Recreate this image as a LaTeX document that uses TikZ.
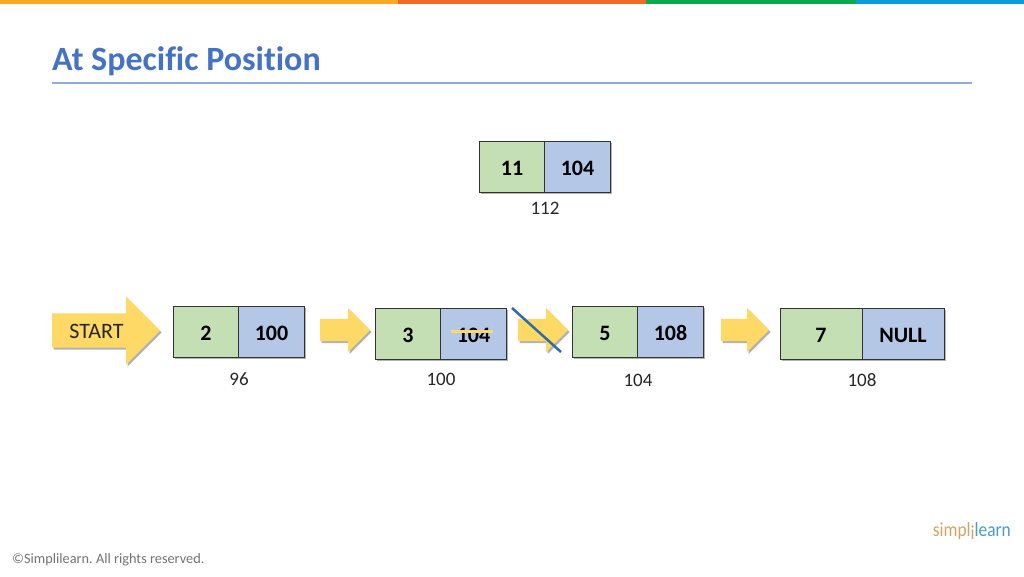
\documentclass[tikz,border=0pt]{standalone}
\usepackage{fontspec}
\setmainfont[Ligatures=NoCommon]{Carlito}
\usetikzlibrary{positioning,shapes.arrows,shadows}
\frenchspacing

\definecolor{stripa}{HTML}{FBA91E}
\definecolor{stripb}{HTML}{F26B25}
\definecolor{stripc}{HTML}{0BA950}
\definecolor{stripd}{HTML}{0A9BDB}
\definecolor{titleblue}{HTML}{4472C4}
\definecolor{rulecol}{HTML}{8FAADC}
\definecolor{datagreen}{HTML}{C5DFB4}
\definecolor{nextblue}{HTML}{B4C7E7}
\definecolor{arrowgold}{HTML}{FFD966}
\definecolor{crossblue}{HTML}{2E6CA4}
\definecolor{logotan}{HTML}{D2A467}
\definecolor{logoblue}{HTML}{4A9CC7}

\begin{document}
\begin{tikzpicture}[
  x = 1pt,
  y = -1pt,
  nodes = {inner sep = 0pt},
  dropshade/.style = {drop shadow={shadow xshift=1.5pt,shadow yshift=-2pt,fill=black,opacity=0.3}},
  datacell/.style = {
    draw = black!80, line width = 1pt, fill = datagreen, outer sep = 0pt,
    minimum width = 65.5pt, minimum height = 51pt,
    text height = 17pt, text depth = 0pt,
    font = \fontsize{22}{26}\selectfont\bfseries},
  nextcell/.style = {datacell, fill = nextblue},
  addr/.style = {font = \fontsize{19}{23}\selectfont, text = black!85},
  blockarrow/.style = {
    single arrow, fill = arrowgold, draw = none, dropshade, anchor = west,
    inner ysep = 11pt, minimum height = 50pt, minimum width = 44pt,
    single arrow head extend = 11pt,
    single arrow head indent = 0pt}
  ]
  \useasboundingbox (0,0) rectangle (1024,576);

  % colour strip along the top
  \fill [stripa] (0,0) rectangle (398,4);
  \fill [stripb] (398,0) rectangle (646,4);
  \fill [stripc] (646,0) rectangle (856,4);
  \fill [stripd] (856,0) rectangle (1024,4);

  % heading
  \node [anchor = west, text = titleblue, font = \fontsize{34}{40}\selectfont\bfseries]
    (heading) at (52,61) {At Specific Position};
  \draw [rulecol, line width = 1.2pt] (52,83) -- (972,83);

  % new node
  \node [datacell, dropshade] (newdata) at (512,166.5) {11};
  \node [nextcell, dropshade, right = 0pt of newdata] (newnext) {104};
  \node [addr] (newaddr) at (545,208) {112};

  % list
  \node [datacell, dropshade] (data1) at (206,331.5) {2};
  \node [nextcell, dropshade, right = 0pt of data1] (next1) {100};
  \node [datacell, dropshade] (data2) at (408,333.5) {3};
  \node [nextcell, dropshade, right = 0pt of data2] (next2) {104};
  \node [datacell, dropshade] (data3) at (605,331.5) {5};
  \node [nextcell, dropshade, right = 0pt of data3] (next3) {108};
  \node [datacell, dropshade, minimum width = 82pt] (data4) at (821,333.5) {7};
  \node [nextcell, dropshade, minimum width = 82pt, right = 0pt of data4] (next4) {NULL};

  % addresses
  \node [addr] (addr1) at (239,379) {96};
  \node [addr] (addr2) at (441,379) {100};
  \node [addr] (addr3) at (638,380) {104};
  \node [addr] (addr4) at (862,380) {108};

  % arrows
  \node [blockarrow, minimum height = 108pt, minimum width = 67pt, inner ysep = 17pt,
    single arrow head extend = 17pt] (start) at (52,330.5) {};
  \node [font = \fontsize{22}{26}\selectfont, text = black!85] (startlabel) at (96.5,331) {START};
  \node [blockarrow] (link1) at (320,330) {};
  \node [blockarrow] (link2) at (518,330) {};
  \node [blockarrow, minimum height = 48pt] (link3) at (721,330) {};

  % broken link
  \coordinate (strikea) at (451,331);
  \coordinate (strikeb) at (493,331);
  \draw [arrowgold, line width = 3pt] (strikea) -- (strikeb);
  \coordinate (crossa) at (512,308);
  \coordinate (crossb) at (561,352);
  \draw [crossblue, line width = 2.5pt] (crossa) -- (crossb);

  % footer
  \node [anchor = west, text = black!55, font = \fontsize{14.3}{17}\selectfont]
    (footer) at (12,560) {©Simplilearn. All rights reserved.};
  \node [anchor = east, xscale = 0.87, font = \fontsize{20}{24}\selectfont] (logo) at (1011,531)
    {\textcolor{logotan}{simpl}\raisebox{-3pt}{\textcolor{logotan}{i}}\textcolor{logoblue}{learn}};
\end{tikzpicture}
\end{document}
